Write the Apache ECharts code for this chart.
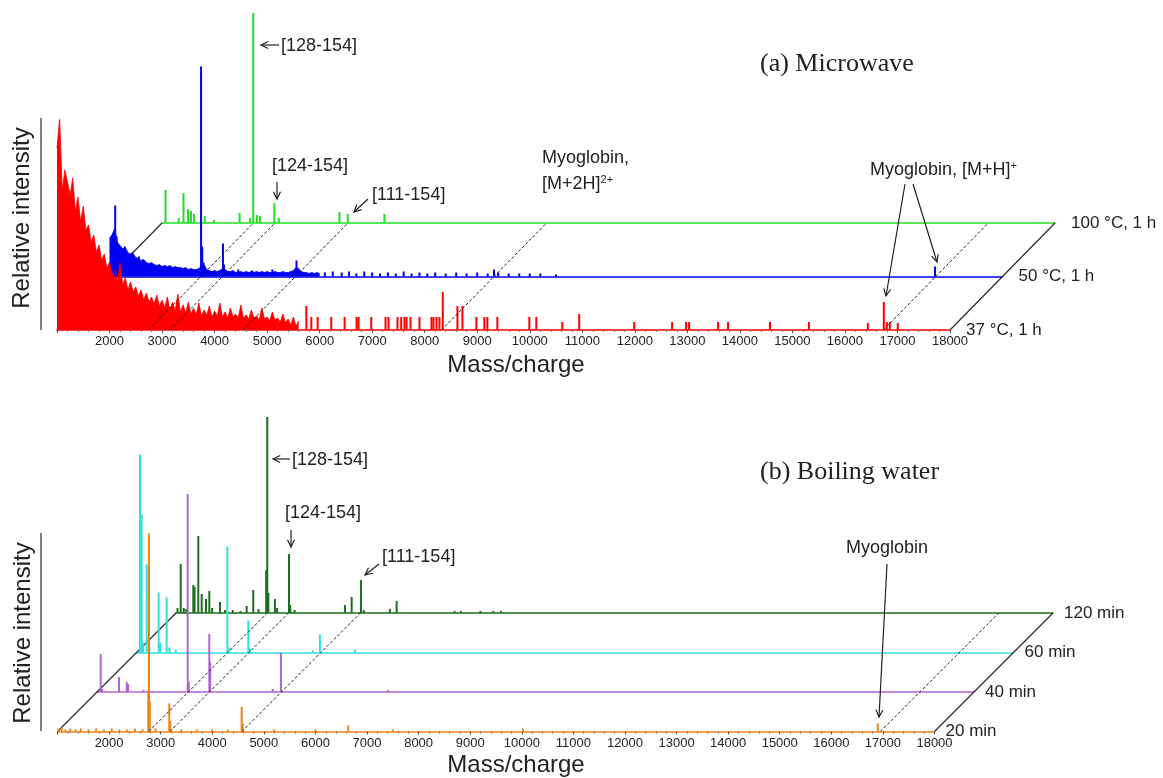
<!DOCTYPE html>
<html><head><meta charset="utf-8">
<script src="https://cdn.jsdelivr.net/npm/echarts@6.0.0/dist/echarts.min.js"></script>
<style>html,body{margin:0;padding:0;background:#fff}#c{width:1163px;height:778px}</style>
</head><body><div id="c"></div>
<script>
// ---------------- DATA ----------------
const MZ_MIN = 1000, MZ_MAX = 18000, MZ_TICK = 1000;
const DENSE_STEP = 50; // dense arrays start at MZ_MIN, one value every 50 m/z

// Panel (a) Microwave
const tracesA = ['37 °C, 1 h', '50 °C, 1 h', '100 °C, 1 h'];
const red37Dense = [182,212,140,160,148,135,152,118,133,108,
  124,100,105,88,95,78,85,70,76,62,
  68,55,60,48,67,45,52,40,48,38,
  43,34,40,30,37,28,33,26,35,24,
  30,22,33,20,28,19,36,18,25,17,
  28,16,22,15,27,14,20,15,24,13,
  19,14,27,13,18,12,22,13,16,12,
  25,12,15,11,20,12,14,10,22,11,
  13,9,18,10,12,8,16,7,11,5,
  13,4,9];
const red37Peaks = [[5747,24],[5842,13],[5962,13],[6222,13],[6475,13],[6703,13],[6741,13],[6983,13],
  [7254,13],[7311,13],[7482,13],[7553,13],[7615,13],[7654,13],[7730,13],[7901,13],[8129,13],[8167,13],
  [8224,13],[8281,13],[8344,38],[8623,24],[8718,24],[8984,13],[9136,13],[9193,13],[9383,13],[9992,13],
  [10125,13],[10619,8],[10942,16],[11988,8],[12710,8],[12976,8],[13033,8],[13585,8],[13775,8],
  [14573,8],[15315,8],[16436,7],[16740,28],[16797,8],[16854,8],[17006,7]];
const blue50Dense = [38,42,48,34,31,28,29,24,22,23,
  19,18,16,17,14,13,14,12,11,12,
  10,11,10,11,9,10,9,9,8,9,
  7,8,7,7,8,10,12,7,6,5,
  6,5,6,8,7,5,5,6,4,5,
  5,4,5,4,5,4,5,4,5,4,
  5,4,4,5,4,4,5,4,4,5,
  6,9,8,5,4,4,3,4,3,4,3];
const blue50Peaks = [[1108,71],[1135,40],[1290,30],[1420,24],[1560,20],[2743,210],[2765,30],[2790,14],
  [3160,33],[3180,12],[3450,7],[3720,6],[4100,7],[4560,16],[5100,4],[5250,5],[5420,4],[5560,5],
  [5700,3],[5850,5],[6000,4],[6150,3],[6300,4],[6450,3],[6600,5],[6750,3],[6900,4],[7050,3],
  [7200,4],[7400,3],[7600,4],[7800,3],[8000,4],[8200,3],[8320,7],[8400,4],[8600,3],[8800,3],
  [9000,3],[9200,3],[9500,2],[16716,10]];
const green100Peaks = [[1067,33],[1317,5],[1409,30],[1494,14],[1551,12],[1608,9],[1812,7],[1989,3],
  [2477,10],[2673,5],[2736,210],[2806,8],[2863,7],[3139,20],[3224,5],[4378,11],[4536,9],[5234,9]];
const guideMzA = [2740, 3150, 4540, 8320, 16730];

// Panel (b) Boiling water
const tracesB = ['20 min', '40 min', '60 min', '120 min'];
const orange20Peaks = [[1020,3],[1080,4],[1150,2],[1250,3],[1350,2],[1450,3],[1600,2],[1750,3],[1900,2],
  [2050,3],[2200,2],[2350,2],[2500,3],[2650,2],[2760,40],[2773,198],[2790,30],[2900,3],[3167,28],
  [3185,10],[3400,2],[3700,2],[4000,2],[4300,2],[4570,25],[4590,8],[5200,2],[6000,2],[6636,6],
  [7500,2],[10022,3],[16901,8]];
const purple40Peaks = [[1072,38],[1100,3],[1426,15],[1576,10],[1600,8],[1900,2],[2000,2],[2758,199],
  [2780,10],[3177,58],[3195,30],[4405,3],[4566,39],[6645,2]];
const cyan60Peaks = [[1068,198],[1100,138],[1130,10],[1198,88],[1250,6],[1430,60],[1460,10],[1585,55],
  [1640,5],[1760,3],[2760,106],[2800,5],[3167,32],[3200,4],[4420,2],[4556,18],[5235,3]];
const green120Peaks = [[1030,5],[1091,49],[1150,5],[1200,4],[1336,28],[1360,26],[1432,77],[1498,19],
  [1581,14],[1646,22],[1700,5],[1853,11],[1950,3],[2100,3],[2250,2],[2370,7],[2498,23],[2600,4],
  [2748,43],[2769,196],[2790,20],[2918,14],[2960,5],[3190,59],[3215,8],[3300,3],[4275,8],[4405,16],
  [4585,33],[4640,3],[5147,4],[5277,12],[6400,2],[6520,2],[6900,2],[7150,2],[7300,2]];
const guideMzB = [2770, 3180, 4575, 16950];

// ---------------- LAYOUT / STYLE ----------------
const FONT = '"Liberation Sans", Arial, Helvetica, sans-serif';
const SERIF = '"Liberation Serif", "Times New Roman", serif';
const panels = [
  { traces: [
      { name: tracesA[0], color: '#ff0000', dense: red37Dense, peaks: red37Peaks },
      { name: tracesA[1], color: '#0000f0', dense: blue50Dense, peaks: blue50Peaks },
      { name: tracesA[2], color: '#22e022', peaks: green100Peaks }],
    left: 57, width: 893, base: 330, stepX: 52.5, stepY: 53.5, height: 210, yMax: 210, guides: guideMzA, labelGap: 16 },
  { traces: [
      { name: tracesB[0], color: '#f08010', peaks: orange20Peaks },
      { name: tracesB[1], color: '#b264d2', peaks: purple40Peaks },
      { name: tracesB[2], color: '#30e0e0', peaks: cyan60Peaks },
      { name: tracesB[3], color: '#1d6e1d', peaks: green120Peaks }],
    left: 57.5, width: 877, base: 731.5, stepX: 39.5, stepY: 39.5, height: 198, yMax: 198, guides: guideMzB, labelGap: 11 }
];

const grid = [], xAxis = [], yAxis = [], series = [];
let gi = 0;
panels.forEach(p => {
  p.gridStart = gi;
  p.traces.forEach((t, ti) => {
    const isFront = ti === 0;
    grid.push({ left: p.left + ti * p.stepX, top: p.base - ti * p.stepY - p.height,
      width: p.width, height: p.height, containLabel: false, outerBoundsMode: 'none' });
    xAxis.push({ type: 'value', gridIndex: gi, min: MZ_MIN, max: MZ_MAX, interval: MZ_TICK,
      axisLine: { show: true, onZero: false, lineStyle: { color: t.color, width: 1.5 } },
      axisTick: { show: isFront, length: 3, lineStyle: { color: '#555' } },
      minorTick: { show: isFront, splitNumber: 5, length: 2, lineStyle: { color: '#777' } },
      axisLabel: { show: isFront, showMinLabel: false, margin: 5, fontSize: 13, color: '#222', fontFamily: FONT,
        formatter: v => String(v) },
      splitLine: { show: false } });
    yAxis.push({ type: 'value', gridIndex: gi, min: 0, max: p.yMax, show: false });
    t.gi = gi;
    gi++;
  });
  // draw back traces first, front traces last
  for (let ti = p.traces.length - 1; ti >= 0; ti--) {
    const t = p.traces[ti];
    if (t.dense) {
      series.push({ type: 'line', xAxisIndex: t.gi, yAxisIndex: t.gi, silent: true, animation: false,
        data: t.dense.map((v, i) => [MZ_MIN + i * DENSE_STEP, v]), symbol: 'none', sampling: null,
        lineStyle: { color: t.color, width: 0.8 }, areaStyle: { color: t.color, opacity: 1 }, z: 2 });
    }
    series.push({ type: 'bar', xAxisIndex: t.gi, yAxisIndex: t.gi, silent: true, animation: false,
      data: t.peaks, barWidth: 2, itemStyle: { color: t.color }, z: 2 });
  }
});

const chart = echarts.init(document.getElementById('c'), null, { renderer: 'canvas' });
chart.setOption({ animation: false, backgroundColor: '#fff', grid, xAxis, yAxis, series });

// ---------------- GRAPHICS (guides, labels, annotations) ----------------
const G = [];
const INK = '#222';
function txt(x, y, text, opt) {
  opt = opt || {};
  G.push({ type: 'text', x, y, z: 60, rotation: opt.rotation || 0,
    style: { text, fill: opt.fill || INK, font: opt.font || ('18px ' + FONT),
      textAlign: opt.align || 'left', textVerticalAlign: 'middle', align: opt.align || 'left', verticalAlign: 'middle',
      rich: opt.rich } });
}
function line(x1, y1, x2, y2, opt) {
  opt = opt || {};
  G.push({ type: 'line', z: opt.z || 60, shape: { x1, y1, x2, y2 },
    style: { stroke: opt.stroke || INK, lineWidth: opt.width || 1.2, lineDash: opt.dash || null } });
}
function arrow(x1, y1, x2, y2) {
  line(x1, y1, x2, y2);
  const a = Math.atan2(y2 - y1, x2 - x1), L = 8, s = 0.45;
  G.push({ type: 'polyline', z: 60, shape: { points: [
      [x2 - L * Math.cos(a - s), y2 - L * Math.sin(a - s)], [x2, y2],
      [x2 - L * Math.cos(a + s), y2 - L * Math.sin(a + s)]] },
    style: { stroke: INK, lineWidth: 1.2, fill: null } });
}

panels.forEach(p => {
  const front = p.gridStart, back = p.gridStart + p.traces.length - 1;
  const P = (g, mz) => chart.convertToPixel({ gridIndex: g }, [mz, 0]);
  [MZ_MIN, MZ_MAX].forEach(mz => {
    const a = P(front, mz), b = P(back, mz);
    line(a[0], a[1], b[0], b[1], { z: 1, width: 1.1 });
  });
  p.guides.forEach(mz => {
    const a = P(front, mz), b = P(back, mz);
    line(a[0], a[1], b[0], b[1], { z: 50, width: 1, dash: [3, 2] });
  });
  p.traces.forEach(t => {
    const e = P(t.gi, MZ_MAX);
    txt(e[0] + p.labelGap, e[1], t.name, { font: '17px ' + FONT });
  });
});

const supRich = {
  n: { font: '18px ' + FONT, fill: INK },
  s: { font: '11px ' + FONT, fill: INK, verticalAlign: 'top', padding: [0, 0, 8, 0] }
};
// panel (a)
txt(760, 64, '(a) Microwave', { font: '26px ' + SERIF });
txt(22, 218, 'Relative intensity', { font: '24px ' + FONT, align: 'center', rotation: Math.PI / 2 });
line(41, 118, 41, 330, { stroke: '#555', width: 1.5 });
txt(516, 365, 'Mass/charge', { font: '24px ' + FONT, align: 'center' });
arrow(279, 45, 261, 45);
txt(281, 46, '[128-154]');
txt(272, 166, '[124-154]');
arrow(277, 182, 277, 199);
txt(372, 195, '[111-154]');
arrow(368, 199, 354, 212);
txt(542, 158, 'Myoglobin,');
txt(542, 184, '{n|[M+2H]}{s|2+}', { rich: supRich });
txt(870, 170, '{n|Myoglobin, [M+H]}{s|+}', { rich: supRich });
arrow(905, 184, 886, 296);
arrow(913, 184, 937, 262);
// panel (b)
txt(760, 472, '(b) Boiling water', { font: '26px ' + SERIF });
txt(23, 633, 'Relative intensity', { font: '24px ' + FONT, align: 'center', rotation: Math.PI / 2 });
line(41, 533, 41, 731, { stroke: '#555', width: 1.5 });
txt(516, 765, 'Mass/charge', { font: '24px ' + FONT, align: 'center' });
arrow(290, 459, 273, 459);
txt(292, 460, '[128-154]');
txt(285, 513, '[124-154]');
arrow(291, 530, 291, 547);
txt(382, 557, '[111-154]');
arrow(379, 564, 365, 575);
txt(846, 548, 'Myoglobin');
arrow(887, 564, 879, 717);

chart.setOption({ graphic: { elements: G } });
</script>
</body></html>
